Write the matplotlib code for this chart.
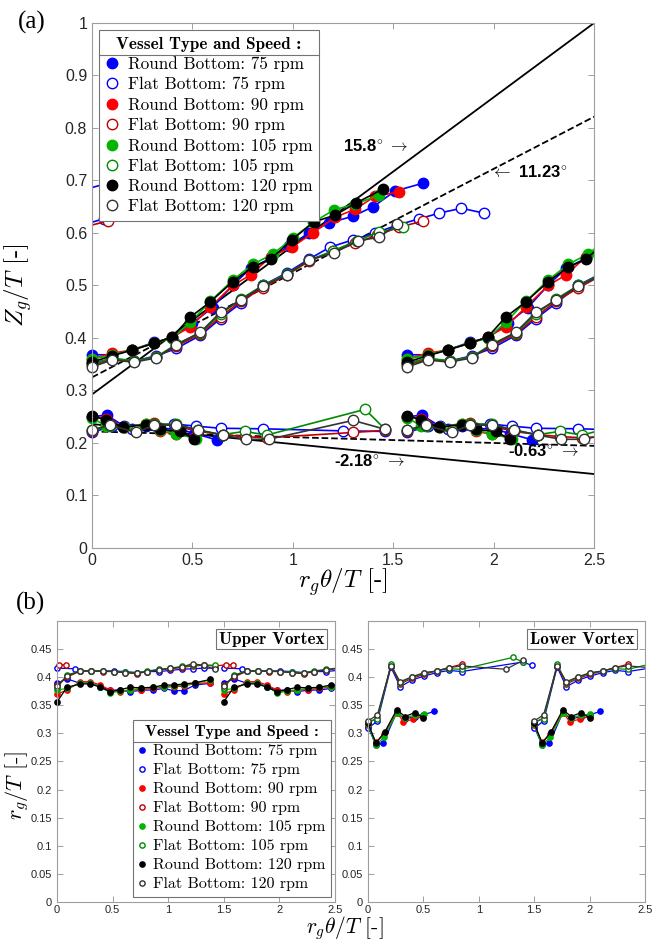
import numpy as np
import matplotlib.pyplot as plt
from matplotlib.lines import Line2D
from matplotlib.ticker import FormatStrFormatter

plt.rcParams['mathtext.fontset'] = 'cm'
plt.rcParams['font.family'] = 'Liberation Sans'
plt.rcParams['axes.unicode_minus'] = False

# x shift between repeated blade passages
SHIFT_A = np.pi / 2
SHIFT_B = 1.5

speeds = [75, 90, 105, 120]
round_colors = ['#0000ff', '#ff0000', '#00b400', '#000000']
flat_colors = ['#0000ff', '#c00000', '#008a00', '#333333']

# (a) vortex centre height Z_g/T, upper vortex
a_round_up_x = [
    [0, 0.10, 0.20, 0.31, 0.40, 0.50, 0.60, 0.70, 0.79, 0.89, 0.98, 1.08, 1.18, 1.30, 1.40, 1.51, 1.65],
    [0, 0.10, 0.20, 0.31, 0.40, 0.49, 0.59, 0.70, 0.79, 0.89, 0.995, 1.10, 1.21, 1.31, 1.41, 1.53],
    [0, 0.10, 0.20, 0.31, 0.40, 0.49, 0.59, 0.70, 0.80, 0.90, 1.00, 1.10, 1.205, 1.31, 1.43],
    [0, 0.10, 0.20, 0.31, 0.40, 0.49, 0.59, 0.70, 0.80, 0.89, 0.995, 1.105, 1.21, 1.315, 1.45],
]
a_round_up_y = [
    [0.368, 0.368, 0.377, 0.392, 0.400, 0.428, 0.458, 0.500, 0.533, 0.552, 0.575, 0.600, 0.619, 0.632, 0.650, 0.680, 0.695],
    [0.360, 0.371, 0.377, 0.390, 0.402, 0.421, 0.459, 0.500, 0.520, 0.555, 0.573, 0.600, 0.630, 0.645, 0.670, 0.678],
    [0.360, 0.367, 0.378, 0.390, 0.400, 0.430, 0.470, 0.510, 0.540, 0.560, 0.590, 0.620, 0.644, 0.655, 0.672],
    [0.354, 0.366, 0.377, 0.390, 0.402, 0.440, 0.469, 0.507, 0.535, 0.550, 0.587, 0.621, 0.634, 0.657, 0.684],
]
a_flat_up_x = [
    [0, 0.10, 0.21, 0.32, 0.42, 0.54, 0.64, 0.74, 0.85, 0.97, 1.08, 1.185, 1.30, 1.41, 1.52, 1.63, 1.73, 1.84, 1.95],
    [0, 0.10, 0.21, 0.32, 0.42, 0.54, 0.64, 0.74, 0.85, 0.97, 1.08, 1.20, 1.31, 1.42, 1.53, 1.65],
    [0, 0.10, 0.21, 0.32, 0.42, 0.54, 0.64, 0.74, 0.85, 0.97, 1.08, 1.20, 1.32, 1.43, 1.55],
    [0, 0.10, 0.21, 0.32, 0.42, 0.54, 0.64, 0.74, 0.85, 0.97, 1.08, 1.205, 1.325, 1.43, 1.52],
]
a_flat_up_y = [
    [0.352, 0.360, 0.356, 0.366, 0.380, 0.405, 0.437, 0.466, 0.500, 0.524, 0.550, 0.573, 0.587, 0.600, 0.615, 0.627, 0.638, 0.647, 0.638],
    [0.348, 0.360, 0.356, 0.364, 0.384, 0.408, 0.440, 0.470, 0.495, 0.520, 0.546, 0.565, 0.580, 0.596, 0.611, 0.623],
    [0.350, 0.362, 0.356, 0.364, 0.388, 0.410, 0.445, 0.474, 0.500, 0.522, 0.548, 0.566, 0.585, 0.602, 0.611],
    [0.345, 0.358, 0.354, 0.362, 0.387, 0.411, 0.449, 0.472, 0.499, 0.520, 0.549, 0.562, 0.585, 0.592, 0.617],
]

# (a) lower vortex
a_round_lo_x = [
    [0, 0.073, 0.16, 0.27, 0.34, 0.44, 0.51, 0.62],
    [0, 0.07, 0.16, 0.27, 0.34, 0.42, 0.51],
    [0, 0.07, 0.16, 0.27, 0.34, 0.42, 0.52],
    [0, 0.07, 0.155, 0.27, 0.34, 0.44, 0.51],
]
a_round_lo_y = [
    [0.250, 0.253, 0.232, 0.233, 0.228, 0.226, 0.218, 0.206],
    [0.250, 0.245, 0.230, 0.237, 0.222, 0.217, 0.210],
    [0.248, 0.232, 0.230, 0.236, 0.224, 0.218, 0.208],
    [0.252, 0.244, 0.230, 0.235, 0.226, 0.222, 0.207],
]
a_flat_lo_x = [
    [0, 0.10, 0.20, 0.31, 0.41, 0.52, 0.64, 0.85, 1.25, 1.46],
    [0, 0.09, 0.22, 0.31, 0.42, 0.53, 0.65, 0.76, 0.87, 1.30, 1.46],
    [0, 0.09, 0.22, 0.31, 0.42, 0.53, 0.65, 0.76, 0.87, 1.36, 1.46],
    [0, 0.09, 0.22, 0.31, 0.42, 0.53, 0.65, 0.765, 0.88, 1.30, 1.46],
]
a_flat_lo_y = [
    [0.220, 0.232, 0.226, 0.234, 0.236, 0.232, 0.228, 0.227, 0.223, 0.222],
    [0.222, 0.236, 0.222, 0.238, 0.232, 0.222, 0.216, 0.212, 0.210, 0.220, 0.224],
    [0.224, 0.232, 0.224, 0.236, 0.236, 0.224, 0.216, 0.222, 0.215, 0.264, 0.226],
    [0.225, 0.234, 0.220, 0.234, 0.234, 0.225, 0.215, 0.207, 0.207, 0.243, 0.226],
]

# fitted trend lines: angle in degrees, intercept, line style
trend_deg = [15.8, 11.23, -2.18, -0.63]
trend_b = [0.2925, 0.3250, 0.2360, 0.2220]
trend_ls = ['-', '--', '-', '--']

# (b) vortex radius r_g/T, upper vortex
b_round_up_x = [0, 0.09, 0.21, 0.30, 0.39, 0.48, 0.57, 0.66, 0.76, 0.86, 0.96, 1.05, 1.14, 1.24, 1.38]
b_round_up_y = [
    [0.389, 0.397, 0.389, 0.390, 0.383, 0.377, 0.377, 0.374, 0.377, 0.377, 0.380, 0.376, 0.376, 0.386, 0.389],
    [0.370, 0.377, 0.392, 0.392, 0.386, 0.377, 0.374, 0.377, 0.378, 0.380, 0.382, 0.383, 0.384, 0.389, 0.390],
    [0.377, 0.380, 0.389, 0.389, 0.383, 0.372, 0.375, 0.378, 0.380, 0.382, 0.383, 0.384, 0.386, 0.389, 0.395],
    [0.356, 0.382, 0.388, 0.388, 0.382, 0.374, 0.378, 0.382, 0.381, 0.382, 0.386, 0.386, 0.388, 0.390, 0.396],
]
b_flat_up_x = [
    [0, 0.16, 0.21, 0.31, 0.41, 0.51, 0.61, 0.72, 0.81, 0.92, 1.02, 1.12, 1.22, 1.32, 1.42],
    [0, 0.09, 0.21, 0.31, 0.41, 0.51, 0.61, 0.72, 0.81, 0.92, 1.02, 1.12, 1.22, 1.32, 1.42, 1.52, 1.58],
    [0, 0.09, 0.21, 0.31, 0.41, 0.51, 0.61, 0.72, 0.81, 0.92, 1.02, 1.12, 1.22, 1.32, 1.42],
    [0, 0.09, 0.21, 0.31, 0.41, 0.51, 0.61, 0.72, 0.81, 0.92, 1.02, 1.12, 1.22, 1.32, 1.42],
]
b_flat_up_y = [
    [0.416, 0.415, 0.411, 0.411, 0.411, 0.411, 0.410, 0.408, 0.410, 0.410, 0.412, 0.414, 0.415, 0.416, 0.416],
    [0.386, 0.400, 0.411, 0.411, 0.410, 0.410, 0.408, 0.406, 0.410, 0.413, 0.415, 0.417, 0.420, 0.421, 0.420, 0.422, 0.422],
    [0.380, 0.404, 0.411, 0.411, 0.411, 0.410, 0.409, 0.408, 0.411, 0.414, 0.416, 0.419, 0.421, 0.422, 0.421],
    [0.384, 0.402, 0.411, 0.411, 0.411, 0.410, 0.408, 0.407, 0.410, 0.413, 0.416, 0.418, 0.424, 0.421, 0.414],
]

# (b) lower vortex
b_round_lo_x = [
    [0, 0.07, 0.138, 0.26, 0.33, 0.42, 0.50, 0.596],
    [0, 0.07, 0.145, 0.26, 0.32, 0.41, 0.50],
    [0, 0.07, 0.144, 0.26, 0.33, 0.42, 0.505],
    [0, 0.072, 0.153, 0.259, 0.334, 0.424, 0.50],
]
b_round_lo_y = [
    [0.312, 0.280, 0.282, 0.338, 0.325, 0.330, 0.333, 0.339],
    [0.315, 0.284, 0.298, 0.337, 0.321, 0.325, 0.330],
    [0.316, 0.279, 0.293, 0.336, 0.328, 0.332, 0.334],
    [0.318, 0.283, 0.303, 0.342, 0.330, 0.337, 0.327],
]
b_flat_lo_x = [
    [0, 0.085, 0.207, 0.29, 0.40, 0.505, 0.62, 0.73, 0.845, 1.40, 1.477],
    [0, 0.085, 0.207, 0.29, 0.40, 0.505, 0.62, 0.73, 0.845],
    [0, 0.085, 0.207, 0.29, 0.40, 0.505, 0.62, 0.73, 0.845, 1.305, 1.40],
    [0, 0.085, 0.207, 0.29, 0.40, 0.505, 0.62, 0.73, 0.845, 1.245, 1.40],
]
b_flat_lo_y = [
    [0.309, 0.322, 0.418, 0.383, 0.395, 0.402, 0.408, 0.412, 0.410, 0.427, 0.421],
    [0.318, 0.328, 0.420, 0.388, 0.398, 0.405, 0.411, 0.417, 0.423],
    [0.320, 0.326, 0.423, 0.390, 0.400, 0.407, 0.411, 0.415, 0.414, 0.435, 0.427],
    [0.322, 0.333, 0.420, 0.392, 0.401, 0.408, 0.411, 0.417, 0.420, 0.414, 0.430],
]


def draw(ax, x, y, shift, color, filled, ms, lw, label=None):
    y = np.asarray(y)
    for off in (-shift, 0.0, shift):
        xs = np.asarray(x) + off
        ax.plot(xs, y, color=color, lw=lw)
        keep = (xs >= 0) & (xs <= 2.5)
        ax.plot(xs[keep], y[keep], 'o', ls='none', mec=color,
                mfc=color if filled else 'white', ms=ms, mew=1.0,
                clip_on=False, label=label if off == 0 else None)


def style_axes(ax, size, xpad=3.5):
    for s in ax.spines.values():
        s.set_color('0.62')
        s.set_linewidth(0.8)
    ax.tick_params(direction='in', top=True, right=True, length=4,
                   width=0.7, color='0.62', labelcolor='0.15', labelsize=size)
    ax.tick_params(axis='x', pad=xpad)
    ax.xaxis.set_major_formatter(FormatStrFormatter('%g'))
    ax.yaxis.set_major_formatter(FormatStrFormatter('%g'))


def add_separator(fig, leg, color='0.45'):
    fig.canvas.draw()
    lb = leg.get_window_extent()
    tb = leg.get_title().get_window_extent()
    inv = fig.transFigure.inverted()
    y = tb.y0 - 3
    x0, y0 = inv.transform((lb.x0, y))
    x1, _ = inv.transform((lb.x1, y))
    fig.add_artist(Line2D([x0, x1], [y0, y0], color=color, lw=0.8))


fig = plt.figure(figsize=(6.55, 9.42), dpi=100)
ax = fig.add_axes([0.1405, 0.4183, 0.7664, 0.5573])
axl = fig.add_axes([0.087, 0.0425, 0.4244, 0.2983])
axr = fig.add_axes([0.5618, 0.0425, 0.4229, 0.2983])

# ---- (a) ----
xl = np.array([0, 2.5])
for deg, b, ls in zip(trend_deg, trend_b, trend_ls):
    ax.plot(xl, b + np.tan(np.radians(deg)) * xl, color='k', ls=ls, lw=1.3)

for i, rpm in enumerate(speeds):
    draw(ax, a_round_up_x[i], a_round_up_y[i], SHIFT_A, round_colors[i], True, 7.5, 1.2,
         f'Round Bottom: {rpm} rpm')
    draw(ax, a_round_lo_x[i], a_round_lo_y[i], SHIFT_A, round_colors[i], True, 7.5, 1.2)
    draw(ax, a_flat_up_x[i], a_flat_up_y[i], SHIFT_A, flat_colors[i], False, 7.5, 1.2,
         f'Flat Bottom: {rpm} rpm')
    draw(ax, a_flat_lo_x[i], a_flat_lo_y[i], SHIFT_A, flat_colors[i], False, 7.5, 1.2)

ax.set_xlim(0, 2.5)
ax.set_ylim(0, 1)
ax.set_xticks(np.arange(0, 2.51, 0.5))
ax.set_yticks(np.arange(0, 1.01, 0.1))
style_axes(ax, 11.5)
ax.set_xlabel(r'$r_g\theta/T$ [-]', family='cmr10', size=18)
ax.set_ylabel(r'$Z_g/T$ [-]', family='cmr10', size=18)
ax.xaxis.set_label_coords(0.5, -0.035)
ax.yaxis.set_label_coords(-0.115, 0.5)

ann = dict(family='Liberation Sans', weight='bold', size=12, ha='center', va='center')
ax.text(1.41, 0.766, r'15.8$^{\circ}$ $\rightarrow$', **ann)
ax.text(2.18, 0.716, r'$\leftarrow$ 11.23$^{\circ}$', **ann)
ax.text(1.38, 0.166, r'-2.18$^{\circ}$ $\rightarrow$', **ann)
ax.text(2.25, 0.185, r'-0.63$^{\circ}$ $\rightarrow$', **ann)

handles, labels = ax.get_legend_handles_labels()
leg_a = ax.legend(handles, labels, loc='upper left', bbox_to_anchor=(0.013, 0.987),
                  title='Vessel Type and Speed :', title_fontproperties={'family': 'cmb10', 'size': 12.3},
                  prop={'family': 'cmr10', 'size': 12.3}, frameon=True, fancybox=False,
                  edgecolor='0.45', framealpha=1, borderaxespad=0, handlelength=0.8,
                  handletextpad=0.5, labelspacing=0.28, borderpad=0.4)
leg_a.get_frame().set_linewidth(0.8)

# ---- (b) ----
for i, rpm in enumerate(speeds):
    draw(axl, b_round_up_x, b_round_up_y[i], SHIFT_B, round_colors[i], True, 3.8, 0.9,
         f'Round Bottom: {rpm} rpm')
    draw(axl, b_flat_up_x[i], b_flat_up_y[i], SHIFT_B, flat_colors[i], False, 3.8, 0.9,
         f'Flat Bottom: {rpm} rpm')
    draw(axr, b_round_lo_x[i], b_round_lo_y[i], SHIFT_B, round_colors[i], True, 3.8, 0.9)
    draw(axr, b_flat_lo_x[i], b_flat_lo_y[i], SHIFT_B, flat_colors[i], False, 3.8, 0.9)

for a, name in ((axl, 'Upper Vortex'), (axr, 'Lower Vortex')):
    a.set_xlim(0, 2.5)
    a.set_ylim(0, 0.5)
    a.set_xticks(np.arange(0, 2.51, 0.5))
    a.set_yticks(np.arange(0, 0.451, 0.05))
    style_axes(a, 8, xpad=2)
    a.text(0.962, 0.962, name, transform=a.transAxes, ha='right', va='top',
           family='cmb10', size=12.3,
           bbox=dict(boxstyle='square,pad=0.15', fc='white', ec='0.45', lw=0.8))

handles, labels = axl.get_legend_handles_labels()
leg_b = axl.legend(handles, labels, loc='lower right', bbox_to_anchor=(0.985, 0.018),
                   title='Vessel Type and Speed :', title_fontproperties={'family': 'cmb10', 'size': 11.5},
                   prop={'family': 'cmr10', 'size': 11.5}, frameon=True, fancybox=False,
                   edgecolor='0.45', framealpha=1, borderaxespad=0, handlelength=0.5,
                   handletextpad=0.4, labelspacing=0.3, borderpad=0.35)
leg_b.get_frame().set_linewidth(0.8)

fig.text(0.527, 1 - 928 / 942, r'$r_g\theta/T$ [-]', family='cmr10', size=15.5,
         ha='center', va='center')
fig.text(0.026, 1 - 785 / 942, r'$r_g/T$ [-]', family='cmr10', size=16,
         ha='center', va='center', rotation=90)
fig.text(0.049, 1 - 22 / 942, '(a)', family='Liberation Serif', size=18, ha='center', va='center')
fig.text(0.046, 1 - 603 / 942, '(b)', family='Liberation Serif', size=18, ha='center', va='center')

add_separator(fig, leg_a)
add_separator(fig, leg_b)

fig.savefig('out.png', dpi=100)
